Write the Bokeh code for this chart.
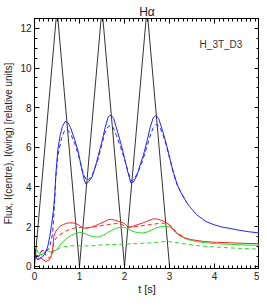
from bokeh.plotting import figure
from bokeh.models import Range1d, LinearAxis, Label, FixedTicker, CustomJSTickFormatter
from bokeh.embed import file_html
from bokeh.resources import INLINE

# ---------------- data ----------------
drive_t = [0.0, 0.5, 1.0, 1.5, 2.0, 2.5, 3.0]
drive_v = [0.0, 13.0, 0.0, 13.0, 0.0, 13.0, 0.0]

blue_solid_t = [0.0, 0.04, 0.08, 0.15, 0.21, 0.26, 0.30, 0.34, 0.38, 0.42, 0.45, 0.48, 0.52, 0.57, 0.62,
                0.68, 0.74, 0.80, 0.89, 0.97, 1.04, 1.10, 1.14, 1.20, 1.28, 1.35, 1.42, 1.50, 1.57, 1.64,
                1.70, 1.76, 1.85, 1.93, 2.00, 2.08, 2.14, 2.20, 2.28, 2.36, 2.42, 2.50, 2.57, 2.64, 2.70,
                2.76, 2.85, 2.93, 3.00, 3.07, 3.17, 3.24, 3.31, 3.38, 3.45, 3.60, 3.81, 4.00, 4.17, 4.35,
                4.50, 4.75, 5.0]
blue_solid_v = [0.9, 0.4, 0.33, 0.42, 0.55, 0.75, 1.05, 1.5, 2.1, 2.8, 3.6, 4.8, 5.9, 6.6, 7.05,
                7.3, 7.25, 7.0, 6.4, 5.8, 5.0, 4.4, 4.15, 4.25, 4.5, 5.0, 5.6, 6.3, 7.0, 7.55,
                7.62, 7.45, 6.75, 6.1, 5.45, 4.7, 4.2, 4.25, 4.6, 5.2, 5.6, 6.3, 7.0, 7.5, 7.6,
                7.45, 6.8, 6.15, 5.5, 4.85, 4.13, 3.78, 3.49, 3.22, 3.0, 2.6, 2.25, 2.08, 1.97, 1.9,
                1.83, 1.74, 1.67]

blue_dash_t = [0.0, 0.05, 0.10, 0.17, 0.25, 0.33, 0.40, 0.44, 0.47, 0.52, 0.60, 0.66, 0.72, 0.80, 0.90,
               1.00, 1.08, 1.15, 1.22, 1.30, 1.40, 1.48, 1.56, 1.62, 1.68, 1.75, 1.82, 1.90, 2.00, 2.08,
               2.15, 2.22, 2.30, 2.40, 2.48, 2.56, 2.63, 2.70, 2.78, 2.86, 2.94, 3.02, 3.10, 3.17, 3.24,
               3.31, 3.38]
blue_dash_v = [0.9, 0.55, 0.5, 0.8, 0.75, 0.9, 1.6, 2.9, 4.4, 5.6, 6.45, 6.8, 6.9, 6.7, 6.15,
               5.4, 4.7, 4.33, 4.4, 4.7, 5.3, 6.0, 6.7, 7.0, 7.1, 7.0, 6.6, 6.1, 5.4, 4.75,
               4.3, 4.4, 4.75, 5.3, 5.9, 6.5, 6.95, 7.15, 7.05, 6.6, 6.0, 5.3, 4.6, 4.1, 3.78,
               3.49, 3.22]

red_solid_t = [0.0, 0.04, 0.07, 0.11, 0.14, 0.19, 0.25, 0.31, 0.36, 0.40, 0.43, 0.47, 0.52, 0.58, 0.64,
               0.71, 0.78, 0.86, 0.92, 0.98, 1.03, 1.08, 1.14, 1.21, 1.28, 1.36, 1.44, 1.50, 1.57, 1.64,
               1.71, 1.78, 1.85, 1.92, 2.00, 2.07, 2.14, 2.21, 2.30, 2.42, 2.52, 2.63, 2.72, 2.80, 2.86,
               2.93, 2.99, 3.06, 3.13, 3.22, 3.35, 3.50, 3.78, 4.05, 4.35, 4.65, 5.0]
red_solid_v = [0.88, 0.45, 0.33, 0.38, 0.42, 0.33, 0.24, 0.28, 0.42, 0.8, 1.5, 1.75, 1.9, 2.02, 2.1,
               2.16, 2.19, 2.18, 2.15, 2.08, 1.98, 1.93, 1.91, 1.94, 1.98, 2.05, 2.13, 2.19, 2.27, 2.35,
               2.36, 2.32, 2.28, 2.22, 2.15, 1.98, 1.98, 2.03, 2.1, 2.19, 2.28, 2.38, 2.38, 2.32, 2.28,
               2.2, 2.1, 1.92, 1.72, 1.55, 1.41, 1.33, 1.24, 1.2, 1.18, 1.15, 1.13]

red_dash_t = [0.0, 0.05, 0.09, 0.15, 0.21, 0.27, 0.33, 0.39, 0.43, 0.47, 0.54, 0.64, 0.75, 0.85, 0.95,
              1.05, 1.15, 1.25, 1.35, 1.50, 1.65, 1.80, 1.92, 2.02, 2.10, 2.20, 2.32, 2.45, 2.60, 2.75,
              2.88, 2.97, 3.05, 3.13, 3.22, 3.35]
red_dash_v = [0.88, 0.5, 0.45, 0.75, 0.8, 0.45, 0.4, 0.6, 1.2, 1.38, 1.55, 1.7, 1.82, 1.9, 1.95,
              1.96, 1.94, 1.95, 1.99, 2.05, 2.1, 2.15, 2.12, 2.02, 1.95, 1.97, 2.01, 2.06, 2.1, 2.15,
              2.17, 2.12, 1.98, 1.78, 1.6, 1.44]

green_solid_t = [0.0, 0.04, 0.08, 0.13, 0.18, 0.23, 0.28, 0.33, 0.38, 0.43, 0.48, 0.53, 0.60, 0.71, 0.82,
                 0.92, 1.00, 1.08, 1.16, 1.24, 1.32, 1.42, 1.52, 1.62, 1.71, 1.80, 1.89, 1.98, 2.06, 2.14,
                 2.22, 2.32, 2.42, 2.50, 2.60, 2.71, 2.82, 2.92, 3.00, 3.08, 3.17, 3.28, 3.42, 3.60, 3.80,
                 4.05, 4.35, 4.65, 5.0]
green_solid_v = [0.9, 0.88, 0.7, 0.58, 0.6, 0.72, 0.82, 0.72, 0.7, 0.78, 0.8, 0.95, 1.15, 1.4, 1.56,
                 1.66, 1.7, 1.68, 1.6, 1.53, 1.48, 1.47, 1.55, 1.68, 1.8, 1.9, 1.96, 1.96, 1.9, 1.8,
                 1.73, 1.68, 1.68, 1.72, 1.82, 1.93, 2.0, 2.02, 1.98, 1.85, 1.65, 1.48, 1.33, 1.24, 1.18,
                 1.13, 1.1, 1.07, 1.05]

green_dash_t = [0.0, 0.05, 0.10, 0.15, 0.20, 0.26, 0.32, 0.38, 0.43, 0.50, 0.57, 0.66, 0.78, 0.95, 1.14,
                1.30, 1.50, 1.75, 2.07, 2.30, 2.57, 2.75, 2.92, 3.05, 3.20, 3.40, 3.60, 3.80, 4.05, 4.35,
                4.65, 5.0]
green_dash_v = [0.87, 0.72, 0.62, 0.56, 0.62, 0.8, 0.75, 0.72, 0.73, 0.82, 0.92, 0.98, 1.02, 1.03, 1.02,
                1.03, 1.07, 1.09, 1.12, 1.14, 1.17, 1.21, 1.25, 1.22, 1.17, 1.1, 1.04, 1.0, 0.96, 0.92,
                0.89, 0.86]

x_ticks = [0, 1, 2, 3, 4, 5]
y_ticks = [0, 2, 4, 6, 8, 10, 12]

title_text = "H\u03b1"
tag_text = "H_3T_D3"
x_label = "t [s]"
y_label = "Flux, I(centre), I(wing) [relative units]"

# ---------------- figure ----------------
FONT = "Liberation Sans"

p = figure(width=259, height=297, output_backend="svg", toolbar_location=None,
           x_range=Range1d(0, 5), y_range=Range1d(-0.12, 12.5),
           min_border_left=30, min_border_right=0, min_border_top=18, min_border_bottom=0,
           x_axis_location=None, y_axis_location=None, title=title_text)
p.background_fill_color = "white"
p.border_fill_color = "white"
p.outline_line_color = "black"
p.outline_line_width = 1
p.xgrid.visible = False
p.ygrid.visible = False

p.title.align = "center"
p.title.text_font = FONT
p.title.text_font_size = "12px"
p.title.text_font_style = "normal"
p.title.text_color = "#222222"
p.title.standoff = 0
p.title.offset = 0

def style_axis(ax, ticks, minor, labels=True):
    ax.ticker = FixedTicker(ticks=ticks, minor_ticks=minor)
    ax.axis_line_color = "black"
    ax.major_tick_line_color = "black"
    ax.minor_tick_line_color = "black"
    ax.major_tick_in = 5
    ax.major_tick_out = 0
    ax.minor_tick_in = 3
    ax.minor_tick_out = 0
    ax.major_label_text_font = FONT
    ax.major_label_text_font_size = "10px"
    ax.major_label_text_color = "#222222"
    ax.axis_label_text_font = FONT
    ax.axis_label_text_font_style = "normal"
    ax.axis_label_text_color = "#222222"
    if not labels:
        ax.formatter = CustomJSTickFormatter(code="return ''")
        ax.major_label_text_font_size = "0px"
        ax.major_label_standoff = 0

x_minor = [i / 10 for i in range(0, 51)]
y_minor = [i / 2 for i in range(0, 26)]

xb = LinearAxis(axis_label=x_label)
style_axis(xb, x_ticks, x_minor)
xb.major_label_standoff = 3
xb.axis_label_standoff = 0
xb.axis_label_text_font_size = "11px"
p.add_layout(xb, "below")

xt = LinearAxis()
style_axis(xt, x_ticks, x_minor, labels=False)
p.add_layout(xt, "above")

yl = LinearAxis(axis_label=y_label)
style_axis(yl, y_ticks, y_minor)
yl.major_label_standoff = 3
yl.axis_label_standoff = 3
yl.axis_label_text_font_size = "10px"
p.add_layout(yl, "left")

yr = LinearAxis()
style_axis(yr, y_ticks, y_minor, labels=False)
p.add_layout(yr, "right")

# curves
p.line(drive_t, drive_v, line_color="#333333", line_width=1)
p.line(green_dash_t, green_dash_v, line_color="#22dd22", line_width=1, line_dash="4 3")
p.line(green_solid_t, green_solid_v, line_color="#22dd22", line_width=1)
p.line(red_dash_t, red_dash_v, line_color="#ff2222", line_width=1, line_dash="4 3")
p.line(red_solid_t, red_solid_v, line_color="#ff2222", line_width=1)
p.line(blue_dash_t, blue_dash_v, line_color="#2222ff", line_width=1, line_dash="4 3")
p.line(blue_solid_t, blue_solid_v, line_color="#2222ff", line_width=1)

# tag inside the frame
p.add_layout(Label(x=4.62, y=11.2, text=tag_text, text_align="right", text_baseline="middle",
                   text_font=FONT, text_font_size="10px", text_color="#333333"))

open("out.html", "w").write(file_html(p, INLINE))
